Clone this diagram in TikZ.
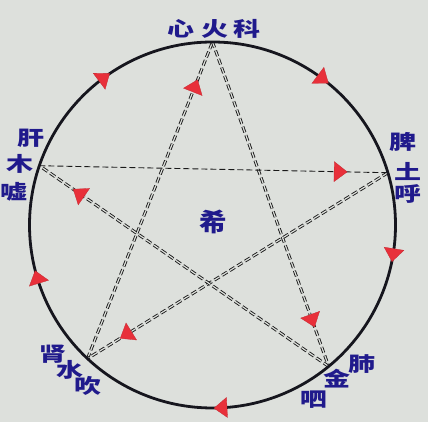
\documentclass[tikz,border=0pt]{standalone}
\usepackage{fontspec}
\newfontfamily\cjk{Noto Sans CJK SC}
\usetikzlibrary{shapes.geometric}
\definecolor{bg}{RGB}{221,224,220}
\definecolor{ink}{RGB}{32,26,140}
\definecolor{arr}{RGB}{232,48,58}
\definecolor{rim}{RGB}{22,22,30}
\begin{document}
\begin{tikzpicture}[x=1pt,y=1pt,
  tri/.style={isosceles triangle, isosceles triangle stretches, minimum width=20pt, minimum height=13pt, inner sep=0pt, fill=arr, draw=arr!85!black, line width=0.3pt, solid},
  lab/.style={text=ink, font=\cjk\bfseries\fontsize{20}{20}\selectfont, xscale=1.35, inner sep=0pt},
  bigl/.style={text=ink, font=\cjk\bfseries\fontsize{25}{25}\selectfont, xscale=1.1, inner sep=0pt},
  starline/.style={draw=black!90, line width=0.9pt, dash pattern=on 6pt off 3pt},
  dbl/.style={starline, double=bg, double distance=1.2pt},
  rimline/.style={draw=rim, line width=2.8pt}]
\useasboundingbox (0,0) rectangle (428,422);
\fill[bg] (0,0) rectangle (428,422);
\coordinate (O) at (212.5,197);
\path (O) ++(90:183) coordinate (T);
\path (O) ++(161.1:183) coordinate (L);
\path (O) ++(16.6:183) coordinate (R);
\path (O) ++(226.9:183) coordinate (W);
\path (O) ++(309.4:183) coordinate (M);
% star
\draw[dbl] (W) -- (T);
\draw[dbl] (T) -- (M);
\draw[starline] (L) -- (R);
\draw[dbl] (R) -- (W);
\draw[dbl] (M) -- (L);
% circle
\draw[rimline] (O) circle (183);
% circle arrows (clockwise)
\path (O) ++(126.7:183) node[tri, rotate=36.7] (c1) {};
\path (O) ++(53.3:183) node[tri, rotate=-36.7] (c2) {};
\path (O) ++(-9:183) node[tri, rotate=-99] (c3) {};
\path (O) ++(-87:183) node[tri, rotate=-177] (c4) {};
\path (O) ++(197:183) node[tri, rotate=107] (c5) {};
% star arrows
\path (W) -- (T) node[tri, pos=0.857, sloped, allow upside down] (s1) {};
\path (T) -- (M) node[tri, pos=0.855, sloped, allow upside down] (s2) {};
\path (L) -- (R) node[tri, pos=0.86, sloped, allow upside down] (s3) {};
\path (R) -- (W) node[tri, pos=0.868, sloped, allow upside down] (s4) {};
\path (M) -- (L) node[tri, pos=0.86, sloped, allow upside down] (s5) {};
% labels
\node[lab] (h1) at (181,393) {心};
\node[lab] (h2) at (215,393) {火};
\node[lab] (h3) at (247,393) {科};
\node[lab] (g1) at (31,284) {肝};
\node[lab] (g2) at (20,258) {木};
\node[lab] (g3) at (14,230) {嘘};
\node[lab] (p1) at (403,280) {脾};
\node[lab] (p2) at (408,250) {土};
\node[lab] (p3) at (408,228) {呼};
\node[lab] (k1) at (53,68) {肾};
\node[lab] (k2) at (70,52) {水};
\node[lab] (k3) at (88,36) {吹};
\node[lab] (f1) at (362,58) {肺};
\node[lab] (f2) at (337,43) {金};
\node[lab] (f3) at (314,22) {呬};
\node[bigl] (xi) at (213,200) {希};
\end{tikzpicture}
\end{document}
